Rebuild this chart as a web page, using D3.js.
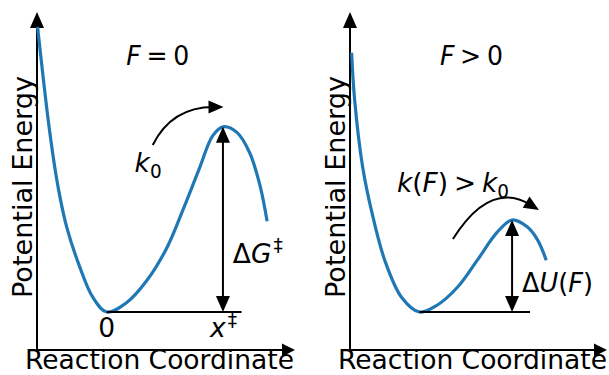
<!DOCTYPE html>
<html>
<head>
<meta charset="utf-8">
<script src="https://cdn.jsdelivr.net/npm/d3@7"></script>
<style>
  html, body { margin: 0; padding: 0; background: #fff; }
  svg { display: block; }
  text { font-family: "DejaVu Sans", sans-serif; fill: #000; }
</style>
</head>
<body>
<svg id="chart" width="609" height="375"></svg>
<script>
// Potential energy along the reaction coordinate, without force (left) and tilted by a force (right)
const leftCoord  = [-0.595, -0.49, -0.42, -0.345, -0.23, -0.12, 0, 0.17, 0.345, 0.52, 0.655, 0.80, 0.91, 1.0, 1.12, 1.23, 1.32, 1.38];
const leftEnergy = [1.54, 0.97, 0.68, 0.46, 0.24, 0.08, 0, 0.05, 0.17, 0.35, 0.55, 0.78, 0.95, 1.0, 0.97, 0.86, 0.68, 0.49];

const rightCoord  = [-0.586, -0.56, -0.49, -0.41, -0.30, -0.155, 0, 0.155, 0.33, 0.50, 0.67, 0.80, 0.93, 1.02, 1.095];
const rightEnergy = [1.40, 1.146, 0.78, 0.535, 0.28, 0.08, 0, 0.038, 0.135, 0.28, 0.43, 0.497, 0.46, 0.39, 0.28];

// Barrier tops (coordinate, energy) and well bottom
const leftBarrier  = [1.0, 1.0];
const rightBarrier = [0.80, 0.497];
const wellBottom   = [0, 0];
const baselineEnd  = [1.16, 0.955];   // right end of the zero-energy line, per panel

// Axis extents in data units
const coordExtent  = [-0.6, 1.62];
const energyExtent = [-0.205, 1.62];

// Tick labels under the left panel
const tickValues = [0, 1.0];

// Rate arrows: start, control, tip (coordinate, energy)
const leftRateArrow  = [[0.396, 0.902], [0.56, 1.107], [1.005, 1.107]];
const rightRateArrow = [[0.289, 0.394], [0.609, 0.713], [1.032, 0.551]];

const svg = d3.select("#chart");
const blue = "#1f77b4";
const FS = 26.5;

const yScale = d3.scaleLinear().domain(energyExtent).range([350, 12]);
const xLeft  = d3.scaleLinear().domain(coordExtent).range([37, 295]);
const xRight = d3.scaleLinear().domain(coordExtent).range([350, 607]);

function head(g, tip, dir, len = 15, half = 6.5) {
  const n = Math.hypot(dir[0], dir[1]);
  const ux = dir[0] / n, uy = dir[1] / n;
  const bx = tip[0] - ux * len, by = tip[1] - uy * len;
  g.append("path")
    .attr("d", `M${tip[0]},${tip[1]}L${bx - uy * half},${by + ux * half}L${bx + uy * half},${by - ux * half}Z`)
    .attr("fill", "#000");
}

function panel(x, coords, energies, barrier, lineEnd, rate) {
  const g = svg.append("g");
  const x0 = x(coordExtent[0]), y0 = yScale(energyExtent[0]);
  const x1 = x(coordExtent[1]), y1 = yScale(energyExtent[1]);

  // axes with arrow heads
  g.append("line").attr("x1", x0).attr("y1", y0).attr("x2", x0).attr("y2", y1 + 10)
    .attr("stroke", "#000").attr("stroke-width", 2);
  g.append("line").attr("x1", x0 - 1).attr("y1", y0).attr("x2", x1 - 10).attr("y2", y0)
    .attr("stroke", "#000").attr("stroke-width", 2);
  head(g, [x0, y1], [0, -1], 16, 7);
  head(g, [x1, y0], [1, 0], 13, 6.5);

  // potential curve
  const pts = coords.map((c, i) => [c, energies[i]]);
  g.append("path")
    .datum(pts)
    .attr("d", d3.line().x(d => x(d[0])).y(d => yScale(d[1])).curve(d3.curveCatmullRom.alpha(0.5)))
    .attr("fill", "none").attr("stroke", blue).attr("stroke-width", 3.2)
    .attr("stroke-linecap", "butt");

  // zero-energy baseline
  g.append("line")
    .attr("x1", x(wellBottom[0])).attr("y1", yScale(wellBottom[1]))
    .attr("x2", x(lineEnd)).attr("y2", yScale(wellBottom[1]))
    .attr("stroke", "#000").attr("stroke-width", 2);

  // barrier height double arrow
  const bx = x(barrier[0]), top = yScale(barrier[1]), bot = yScale(wellBottom[1]);
  g.append("line").attr("x1", bx).attr("y1", top + 8).attr("x2", bx).attr("y2", bot - 8)
    .attr("stroke", "#000").attr("stroke-width", 2);
  head(g, [bx, top], [0, -1], 16, 7);
  head(g, [bx, bot], [0, 1], 16, 7);

  // curved rate arrow
  const [s, c, t] = rate.map(p => [x(p[0]), yScale(p[1])]);
  const dir = [t[0] - c[0], t[1] - c[1]];
  const dn = Math.hypot(dir[0], dir[1]);
  const end = [t[0] - dir[0] / dn * 10, t[1] - dir[1] / dn * 10];
  g.append("path")
    .attr("d", `M${s[0]},${s[1]}Q${c[0]},${c[1]} ${end[0]},${end[1]}`)
    .attr("fill", "none").attr("stroke", "#000").attr("stroke-width", 2);
  head(g, t, dir, 15, 6.5);

  // axis labels
  g.append("text")
    .attr("x", x0 - 12).attr("y", y0 + 18.5)
    .attr("font-size", FS)
    .attr("textLength", 269).attr("lengthAdjust", "spacingAndGlyphs")
    .text("Reaction Coordinate");
  g.append("text")
    .attr("transform", `translate(${x0 - 5},${yScale(0) - 14}) rotate(-90)`)
    .attr("font-size", FS)
    .attr("textLength", 222).attr("lengthAdjust", "spacingAndGlyphs")
    .text("Potential Energy");
  return g;
}

const gl = panel(xLeft, leftCoord, leftEnergy, leftBarrier, baselineEnd[0], leftRateArrow);
const gr = panel(xRight, rightCoord, rightEnergy, rightBarrier, baselineEnd[1], rightRateArrow);

// Math-style label: italic variables, medium spacing around relations, small sub/superscripts
function mathText(g, xPos, yPos, parts, width, anchor = "start") {
  const t = g.append("text").attr("x", xPos).attr("y", yPos).attr("font-size", FS)
    .attr("text-anchor", anchor);
  parts.forEach(p => {
    const s = t.append("tspan").text(p.t);
    if (p.i) s.attr("font-style", "italic");
    if (p.gap) s.attr("dx", p.gap);
    if (p.sub) s.attr("font-size", FS * 0.7).attr("dy", 5.5);
    if (p.sup) s.attr("font-size", FS * 0.7).attr("dy", -10.5).attr("dx", 2);
  });
  if (width) t.attr("textLength", width).attr("lengthAdjust", "spacingAndGlyphs");
  return t;
}

// left panel texts
mathText(gl, xLeft(0.44), yScale(1.334), [{t: "F", i: true}, {t: "=", gap: 6}, {t: "0", gap: 6}], 63, "middle");
mathText(gl, xLeft(0.24), yScale(0.756), [{t: "k", i: true}, {t: "0", sub: true}], 27);
mathText(gl, xLeft(1.085), yScale(0.265), [{t: "Δ"}, {t: "G", i: true}, {t: "‡", sup: true}], 50);
mathText(gl, xLeft(tickValues[0]), yScale(-0.137), [{t: "0"}], null, "middle");
mathText(gl, xLeft(tickValues[1]) - 13, yScale(-0.137), [{t: "x", i: true}, {t: "‡", sup: true}], 27);

// right panel texts
mathText(gr, xRight(0.449), yScale(1.334), [{t: "F", i: true}, {t: ">", gap: 6}, {t: "0", gap: 6}], 63, "middle");
mathText(gr, xRight(-0.194), yScale(0.648),
  [{t: "k", i: true}, {t: "("}, {t: "F", i: true}, {t: ")"}, {t: ">", gap: 6}, {t: "k", i: true, gap: 6}, {t: "0", sub: true}], 112);
mathText(gr, xRight(0.885), yScale(0.108), [{t: "Δ"}, {t: "U", i: true}, {t: "("}, {t: "F", i: true}, {t: ")"}], 71);
</script>
</body>
</html>
